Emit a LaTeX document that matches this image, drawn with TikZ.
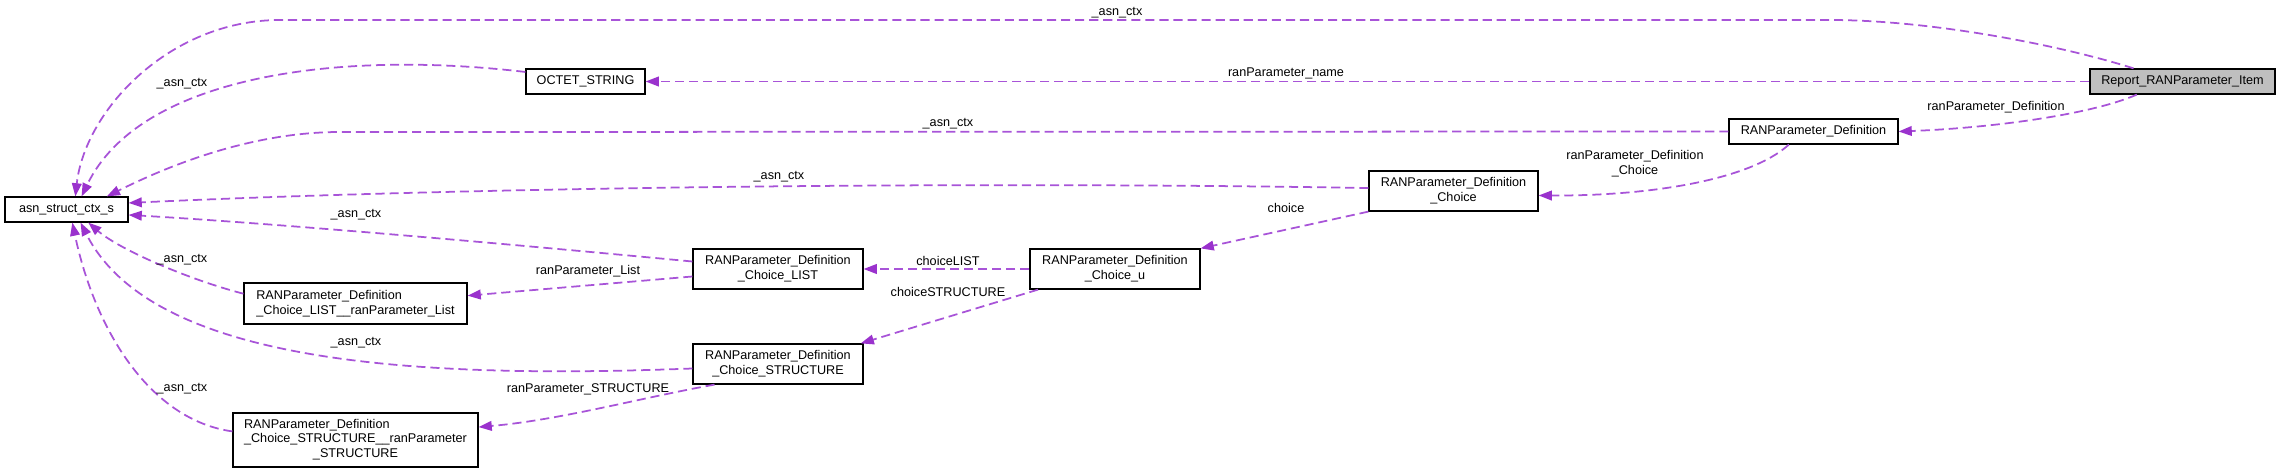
\documentclass[tikz,border=0pt]{standalone}
\usepackage{fontspec}
\setmainfont{Liberation Sans}
\usetikzlibrary{arrows.meta}
\definecolor{linkpurple}{RGB}{168,84,216}
\definecolor{tippurple}{RGB}{154,50,205}
\definecolor{rootgray}{RGB}{191,191,191}

\begin{document}
\begin{tikzpicture}[
  x=0.02cm, y=-0.02cm,
  font=\fontsize{7.2}{8.5}\selectfont,
  cls/.style={
    rectangle,
    draw=black,
    fill=white,
    line width=0.7pt,
    align=center,
    inner sep=1pt,
    minimum height=0.5cm
  },
  link/.style={
    -{Triangle[length=7.5pt,width=5.5pt,color=tippurple]},
    line width=1pt,
    draw=linkpurple,
    dash pattern=on 5.2pt off 2.8pt
  },
  lbl/.style={inner sep=0pt, text=black}
]
\useasboundingbox (0,0) rectangle (2281,473);

% classes
\node[cls, minimum width=2.46cm] (asn) at (66.5,209.5) {asn\_struct\_ctx\_s};
\node[cls, minimum width=2.38cm] (octet) at (585.5,81.5) {OCTET\_STRING};
\node[cls, fill=rootgray, minimum width=3.7cm] (report) at (2182.5,81.5) {Report\_RANParameter\_Item};
\node[cls, minimum width=3.38cm] (def) at (1813.5,131.5) {RANParameter\_Definition};
\node[cls, minimum width=3.38cm, minimum height=0.8cm] (choice) at (1453.5,191) {RANParameter\_Definition\\\_Choice};
\node[cls, minimum width=3.4cm, minimum height=0.8cm] (choiceu) at (1115,269) {RANParameter\_Definition\\\_Choice\_u};
\node[cls, minimum width=3.4cm, minimum height=0.8cm] (clist) at (778,269) {RANParameter\_Definition\\\_Choice\_LIST};
\node[cls, minimum width=3.4cm, minimum height=0.8cm] (cstruct) at (778,364) {RANParameter\_Definition\\\_Choice\_STRUCTURE};
\node[cls, align=left, minimum width=4.46cm, minimum height=0.82cm] (plist) at (355.5,303.5) {RANParameter\_Definition\\\_Choice\_LIST\_\_ranParameter\_List};
\node[cls, minimum width=4.9cm, minimum height=1.08cm] (pstruct) at (355.5,440) {%
  \begin{tabular}{@{}l@{}}
  RANParameter\_Definition\\
  \_Choice\_STRUCTURE\_\_ranParameter\\
  \multicolumn{1}{@{}c@{}}{\_STRUCTURE}
  \end{tabular}};

% members
\draw[link] (report.165) .. controls (2060,45) and (1930,20) .. (1830,20)
  -- (280,20) .. controls (170,20) and (85,110) .. (asn.56);
\draw[link] (report.west) -- (octet.east);
\draw[link] (report.-164) .. controls (2090,115) and (1990,128) .. (def.east);
\draw[link] (octet.171) .. controls (340,50) and (140,75) .. (asn.41);
\draw[link] (def.west) -- (340,132) .. controls (240,132) and (150,175) .. (asn.18);
\draw[link] (def.-152) .. controls (1750,180) and (1650,196) .. (choice.-3);
\draw[link] (choice.178) .. controls (900,180) and (400,190) .. (asn.6);
\draw[link] (choice.south west) -- (choiceu.north east);
\draw[link] (choiceu.west) -- (clist.east);
\draw[link] (choiceu.-165) -- (cstruct.14);
\draw[link] (clist.175) .. controls (550,248) and (300,225) .. (asn.-5);
\draw[link] (clist.185) -- (plist.4);
\draw[link] (plist.175) .. controls (190,280) and (120,250) .. (asn.-31);
\draw[link] (cstruct.183) .. controls (400,380) and (150,360) .. (asn.-43);
\draw[link] (cstruct.-162) .. controls (640,398) and (560,420) .. (pstruct.6);
\draw[link] (pstruct.176) .. controls (150,420) and (95,330) .. (asn.-66);

% member names
\node[lbl] (topctx) at (1117,13) {\_asn\_ctx};
\node[lbl] (namelbl) at (1286,73) {ranParameter\_name};
\node[lbl] (deflbl) at (1996,107) {ranParameter\_Definition};
\node[lbl] (octetctx) at (182,84) {\_asn\_ctx};
\node[lbl] (defctx) at (948,124) {\_asn\_ctx};
\node[lbl, align=center] (choicelbl) at (1635,164) {ranParameter\_Definition\\\_Choice};
\node[lbl] (choicectx) at (779,177) {\_asn\_ctx};
\node[lbl] (ulbl) at (1286,208) {choice};
\node[lbl] (clistctx) at (356,215) {\_asn\_ctx};
\node[lbl] (listlbl) at (948,261) {choiceLIST};
\node[lbl] (plistctx) at (182,260) {\_asn\_ctx};
\node[lbl] (ranlistlbl) at (588,271) {ranParameter\_List};
\node[lbl] (structlbl) at (948,292) {choiceSTRUCTURE};
\node[lbl] (cstructctx) at (356,343) {\_asn\_ctx};
\node[lbl] (pstructctx) at (182,389) {\_asn\_ctx};
\node[lbl] (ranstructlbl) at (588,389) {ranParameter\_STRUCTURE};

\end{tikzpicture}
\end{document}
